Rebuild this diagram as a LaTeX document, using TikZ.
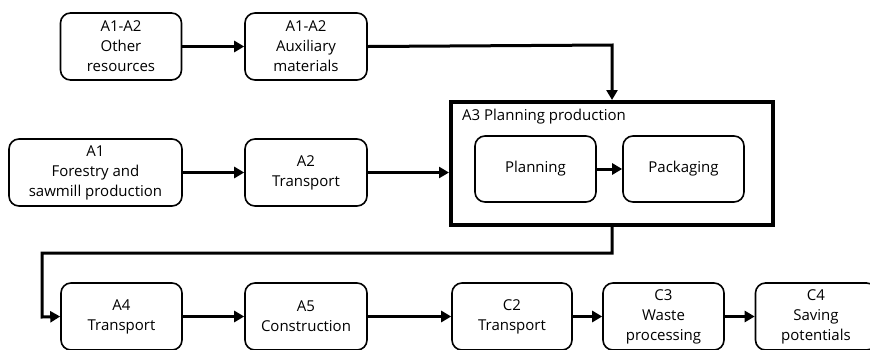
\documentclass[tikz,border=0pt]{standalone}
\usepackage{fontspec}
\setmainfont{Open Sans}
\usetikzlibrary{arrows.meta,positioning}
\begin{document}
\begin{tikzpicture}[x=1pt,y=-1pt,
  every node/.style={font=\fontsize{15}{20}\selectfont, align=center},
  stepbox/.style={draw, line width=1.6pt, rounded corners=10pt, inner sep=0pt},
  flow/.style={line width=3pt, -{Triangle[length=10pt,width=11pt]}}]
\useasboundingbox (0,0) rectangle (870,349);
% top row
\node[stepbox, minimum width=121pt, minimum height=67pt] (oth) at (121,46.5) {A1-A2\\Other\\resources};
\node[stepbox, minimum width=122pt, minimum height=67pt] (aux) at (306,46.5) {A1-A2\\Auxiliary\\materials};
% A3 box
\node[draw, line width=4pt, minimum width=322pt, minimum height=123pt, inner sep=0pt] (a3) at (612,163.5) {};
\node[anchor=west, inner sep=0pt] (a3t) at (462,117) {A3 Planning production};
\node[stepbox, minimum width=121pt, minimum height=66pt] (pla) at (535.5,169) {Planning};
\node[stepbox, minimum width=121pt, minimum height=66pt] (pac) at (683.5,169) {Packaging};
% middle row
\node[stepbox, minimum width=173pt, minimum height=67pt] (a1) at (95.5,172.5) {A1\\Forestry and\\sawmill production};
\node[stepbox, minimum width=122pt, minimum height=67pt] (a2) at (306,172.5) {A2\\Transport};
% bottom row
\node[stepbox, minimum width=121pt, minimum height=67pt] (a4) at (121.5,316.5) {A4\\Transport};
\node[stepbox, minimum width=122pt, minimum height=67pt] (a5) at (306,316.5) {A5\\Construction};
\node[stepbox, minimum width=120pt, minimum height=67pt] (c2) at (512,316.5) {C2\\Transport};
\node[stepbox, minimum width=121pt, minimum height=67pt] (c3) at (663.5,316.5) {C3\\Waste\\processing};
\node[stepbox, minimum width=121pt, minimum height=67pt] (c4) at (816,316.5) {C4\\Saving\\potentials};
\coordinate (t1) at (612,45);
\coordinate (b1) at (612,253);
\coordinate (b2) at (42,253);
\coordinate (b3) at (42,317);
% connectors
\draw[flow] (oth.east) -- (aux.west);
\draw[flow] (aux.east) -- (t1) -- (a3.north);
\draw[flow] (pla.east) -- (pac.west);
\draw[flow] (a1.east) -- (a2.west);
\draw[flow] (a2.east) -- (a2.east -| a3.west);
\draw[flow] (a3.south) -- (b1) -- (b2) -- (b3) -- (a4.west);
\draw[flow] (a5.west -| a4.east) -- (a5.west);
\draw[flow] (a5.east) -- (c2.west);
\draw[flow] (c2.east) -- (c3.west);
\draw[flow] (c3.east) -- (c4.west);
\end{tikzpicture}
\end{document}
